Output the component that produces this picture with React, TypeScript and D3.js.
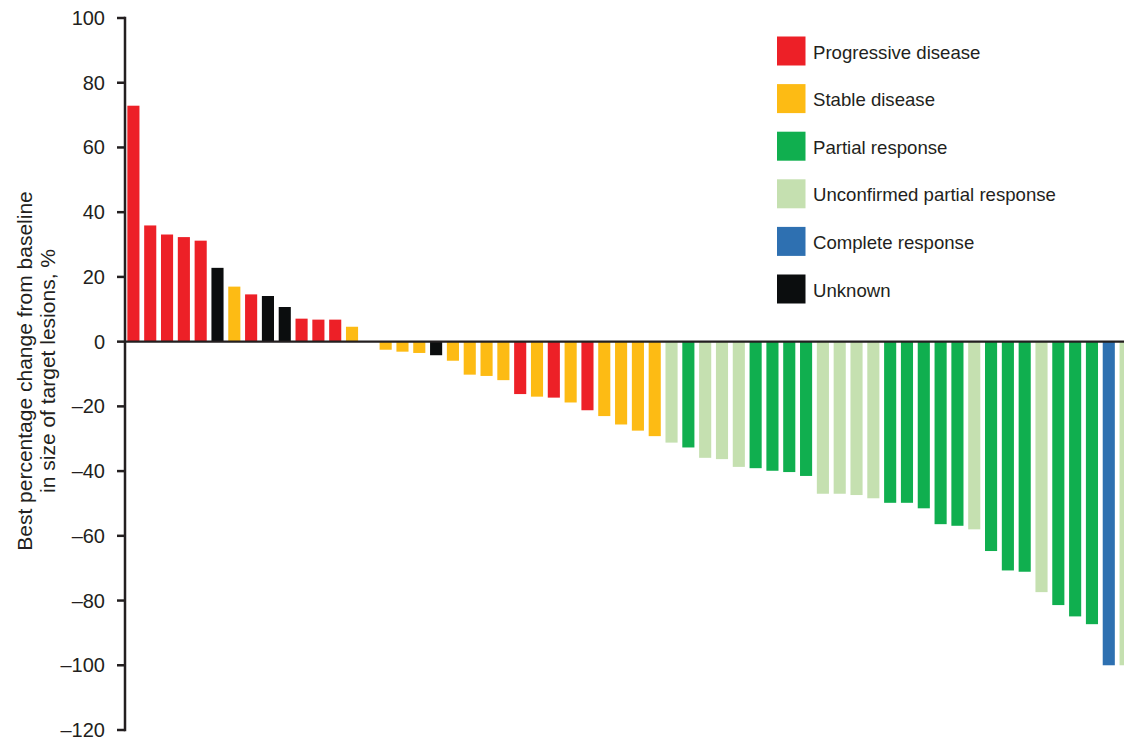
import React from "react";
import * as d3 from "d3";

// Best percentage change per patient (sorted waterfall)
const values: number[] = [
  72.9, 35.9, 33.1, 32.3, 31.2, 22.8, 17.0, 14.6, 14.1, 10.7, 7.1, 6.8, 6.8, 4.6,
  0,
  -2.5, -3.1, -3.5, -4.2, -5.9, -10.2, -10.6, -11.9, -16.2, -17.0, -17.3, -18.8, -21.2,
  -23.0, -25.6, -27.5, -29.2, -31.2, -32.7, -35.9, -36.3, -38.7, -39.1, -39.9, -40.3,
  -41.5, -47.0, -47.0, -47.4, -48.4, -49.8, -49.8, -51.5, -56.4, -56.9, -58.0, -64.7,
  -70.7, -71.1, -77.4, -81.4, -84.9, -87.3, -100, -100,
];

// Response category per patient
const responses: string[] = [
  "PD", "PD", "PD", "PD", "PD", "UNK", "SD", "PD", "UNK", "UNK", "PD", "PD", "PD", "SD",
  "SD",
  "SD", "SD", "SD", "UNK", "SD", "SD", "SD", "SD", "PD", "SD", "PD", "SD", "PD",
  "SD", "SD", "SD", "SD", "uPR", "PR", "uPR", "uPR", "uPR", "PR", "PR", "PR",
  "PR", "uPR", "uPR", "uPR", "uPR", "PR", "PR", "PR", "PR", "PR", "uPR", "PR",
  "PR", "PR", "uPR", "PR", "PR", "PR", "CR", "uPR",
];

const legendKeys: string[] = ["PD", "SD", "PR", "uPR", "CR", "UNK"];
const legendLabels: string[] = [
  "Progressive disease",
  "Stable disease",
  "Partial response",
  "Unconfirmed partial response",
  "Complete response",
  "Unknown",
];
const legendColors: string[] = ["#ed2027", "#fdbb14", "#10af4f", "#c5e0b0", "#2e70b1", "#0b0d0e"];

const yTicks: number[] = [100, 80, 60, 40, 20, 0, -20, -40, -60, -80, -100, -120];

const yLabelLines: string[] = [
  "Best percentage change from baseline",
  "in size of target lesions, %",
];

const FONT = "'Liberation Sans', Arial, Helvetica, sans-serif";
const INK = "#231f20";

export default function App() {
  const W = 1124;
  const H = 740;
  const axisX = 125;

  const patients = values.map((_, i) => `P${i + 1}`);
  const color = d3.scaleOrdinal<string, string>().domain(legendKeys).range(legendColors);

  const x = d3
    .scaleBand<string>()
    .domain(patients)
    .range([axisX, 1134])
    .paddingInner(0.28)
    .paddingOuter(0.14);

  const y = d3.scaleLinear().domain([-120, 100]).range([730, 18]);

  const fmt = (v: number) => (v < 0 ? "\u2013" + Math.abs(v) : String(v));

  return (
    <svg
      width={W}
      height={H}
      style={{ position: "absolute", left: 0, top: 0, background: "#fff" }}
      fontFamily={FONT}
    >
      {/* bars */}
      <g>
        {values.map((v, i) => {
          const y0 = y(0);
          const y1 = y(v);
          return (
            <rect
              key={i}
              x={x(patients[i])}
              y={Math.min(y0, y1)}
              width={x.bandwidth()}
              height={Math.abs(y1 - y0)}
              fill={color(responses[i])}
            />
          );
        })}
      </g>

      {/* zero line */}
      <line x1={axisX} x2={W} y1={y(0)} y2={y(0)} stroke={INK} strokeWidth={2.2} />

      {/* y axis */}
      <g>
        <line x1={axisX} x2={axisX} y1={y(100) - 1.2} y2={y(-120) + 1.2} stroke={INK} strokeWidth={2.5} />
        {yTicks.map((t) => (
          <g key={t} transform={`translate(0,${y(t)})`}>
            <line x1={axisX - 8} x2={axisX} stroke={INK} strokeWidth={2.5} />
            <text
              x={axisX - 20}
              dy="0.35em"
              textAnchor="end"
              fontSize={20}
              fill={INK}
            >
              {fmt(t)}
            </text>
          </g>
        ))}
      </g>

      {/* y axis title */}
      <g transform={`translate(0,${371}) rotate(-90)`}>
        {yLabelLines.map((line, i) => (
          <text key={i} x={0} y={32 + i * 23} textAnchor="middle" fontSize={21} fill={INK}>
            {line}
          </text>
        ))}
      </g>

      {/* legend */}
      <g>
        {legendKeys.map((k, i) => {
          const cy = 51 + i * 47.6;
          return (
            <g key={k}>
              <rect x={777} y={cy - 14.5} width={28.5} height={29} fill={color(k)} />
              <text x={813} y={cy + 7.5} fontSize={18.6} fill={INK}>
                {legendLabels[i]}
              </text>
            </g>
          );
        })}
      </g>
    </svg>
  );
}
